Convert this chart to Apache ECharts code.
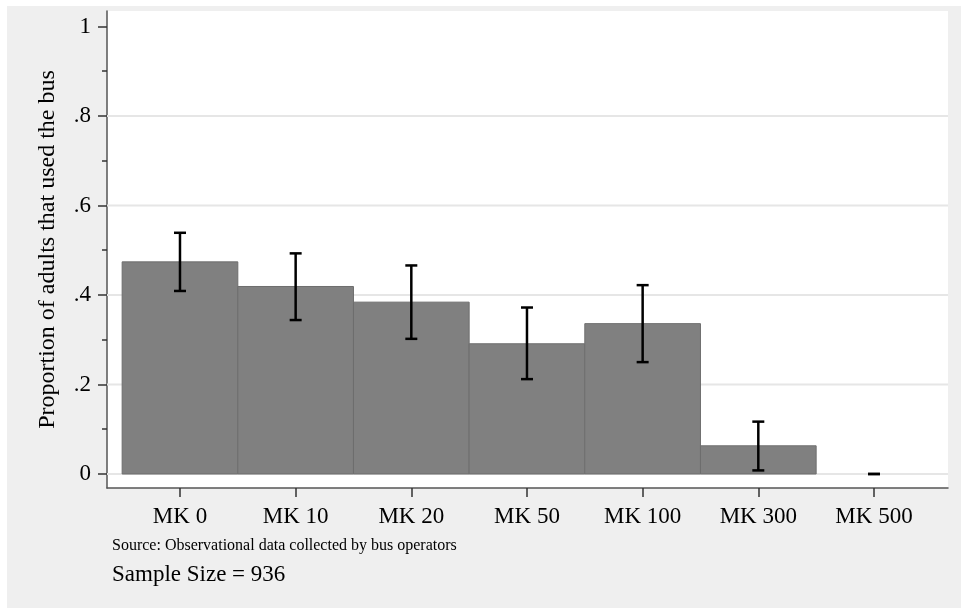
<!DOCTYPE html>
<html><head><meta charset="utf-8">
<script src="https://cdn.jsdelivr.net/npm/echarts@6/dist/echarts.min.js"></script>
<style>html,body{margin:0;padding:0;background:#fff}#c{width:961px;height:609px}</style>
</head><body><div id="c"></div>
<script>
const CATEGORIES = ['MK 0','MK 10','MK 20','MK 50','MK 100','MK 300','MK 500'];
const POSITIONS = [1,2,3,4,5,6,7];
const PROPORTION = [0.474,0.419,0.384,0.291,0.336,0.063,0];
const CI_LOW = [0.409,0.344,0.302,0.212,0.250,0.008,0];
const CI_HIGH = [0.539,0.493,0.466,0.372,0.422,0.117,0];
const Y_TICKS = [0,0.2,0.4,0.6,0.8,1];
const Y_TICK_LABELS = ['0','.2','.4','.6','.8','1'];
const Y_MINOR_TICKS = [0.1,0.3,0.5,0.7,0.9];
const GRID_VALUES = [0,0.2,0.4,0.6,0.8];
const Y_TITLE = 'Proportion of adults that used the bus';
const SOURCE_NOTE = 'Source: Observational data collected by bus operators';
const SAMPLE_NOTE = 'Sample Size = 936';

const X_RANGE = [0.369, 7.64];
const Y_RANGE = [-0.0313, 1.0346];
const FONT = '"Liberation Serif", "Times New Roman", serif';

const chart = echarts.init(document.getElementById('c'), null, {renderer:'canvas'});
chart.setOption({
  animation: false,
  backgroundColor: '#ffffff',
  grid: {left:107, top:11, right:13, bottom:121, show:true, backgroundColor:'#ffffff', borderWidth:0, containLabel:false, outerBoundsMode:'none'},
  xAxis: {
    type:'value', min:X_RANGE[0], max:X_RANGE[1],
    axisLine:{show:true, onZero:false, lineStyle:{color:'#555555', width:1.5}},
    axisTick:{show:true, customValues:POSITIONS, length:9, lineStyle:{color:'#333333', width:1.5}},
    axisLabel:{show:true, customValues:POSITIONS, formatter:v=>CATEGORIES[Math.round(v)-1], fontSize:23, fontFamily:FONT, color:'#000', margin:17},
    splitLine:{show:false}
  },
  yAxis: [{
    type:'value', min:Y_RANGE[0], max:Y_RANGE[1],
    axisLine:{show:true, onZero:false, lineStyle:{color:'#555555', width:1.5}},
    axisTick:{show:true, customValues:Y_TICKS, length:9, lineStyle:{color:'#333333', width:1.5}},
    axisLabel:{show:true, customValues:Y_TICKS, formatter:v=>{const i=Y_TICKS.findIndex(t=>Math.abs(t-v)<1e-9); return i>=0?Y_TICK_LABELS[i]:'';}, fontSize:23, fontFamily:FONT, color:'#000', margin:16},
    splitLine:{show:false},
    name:Y_TITLE, nameLocation:'middle', nameGap:47, nameRotate:90,
    nameTextStyle:{fontSize:24, fontFamily:FONT, color:'#000'}
  },{
    type:'value', min:Y_RANGE[0], max:Y_RANGE[1], position:'left',
    axisLine:{show:false, onZero:false},
    axisTick:{show:true, customValues:Y_MINOR_TICKS, length:5, lineStyle:{color:'#333333', width:1.5}},
    axisLabel:{show:false},
    splitLine:{show:false}
  }],
  graphic: [
    {type:'rect', left:7, top:6, z:-10, silent:true, shape:{width:954, height:602}, style:{fill:'#efefef'}},
    {type:'text', left:112, top:538, style:{text:SOURCE_NOTE, font:'16px ' + FONT, fill:'#000'}},
    {type:'text', left:112, top:563, style:{text:SAMPLE_NOTE, font:'23px ' + FONT, fill:'#000'}}
  ],
  series: [
    {
      type:'custom', z:1, silent:true,
      data:GRID_VALUES.map(v=>[X_RANGE[0], v]),
      encode:{x:0, y:1},
      renderItem:(params, api)=>{
        const cs=params.coordSys;
        const y=api.coord([api.value(0), api.value(1)])[1];
        return {type:'line', shape:{x1:cs.x, y1:y, x2:cs.x+cs.width, y2:y},
          style:{stroke:'#e6e6e6', lineWidth:2}};
      }
    },
    {
      type:'custom', z:2,
      data:POSITIONS.map((p,i)=>[p, PROPORTION[i]]),
      encode:{x:0, y:1},
      renderItem:(params, api)=>{
        const x=api.value(0), v=api.value(1);
        const a=api.coord([x-0.5, v]), b=api.coord([x+0.5, 0]);
        if (Math.abs(b[1]-a[1]) < 0.5) return null;
        return {type:'rect', shape:{x:a[0], y:a[1], width:b[0]-a[0], height:b[1]-a[1]},
          style:{fill:'#808080', stroke:'#6e6e6e', lineWidth:1}};
      }
    },
    {
      type:'custom', z:3,
      data:POSITIONS.map((p,i)=>[p, CI_LOW[i], CI_HIGH[i]]),
      encode:{x:0, y:[1,2]},
      renderItem:(params, api)=>{
        const x=api.value(0);
        const lo=api.coord([x, api.value(1)]), hi=api.coord([x, api.value(2)]);
        const st={stroke:'#000', lineWidth:2.5};
        const cap=6;
        return {type:'group', children:[
          {type:'line', shape:{x1:lo[0], y1:lo[1], x2:hi[0], y2:hi[1]}, style:st},
          {type:'line', shape:{x1:lo[0]-cap, y1:lo[1], x2:lo[0]+cap, y2:lo[1]}, style:st},
          {type:'line', shape:{x1:hi[0]-cap, y1:hi[1], x2:hi[0]+cap, y2:hi[1]}, style:st}
        ]};
      }
    }
  ]
});
</script></body></html>
